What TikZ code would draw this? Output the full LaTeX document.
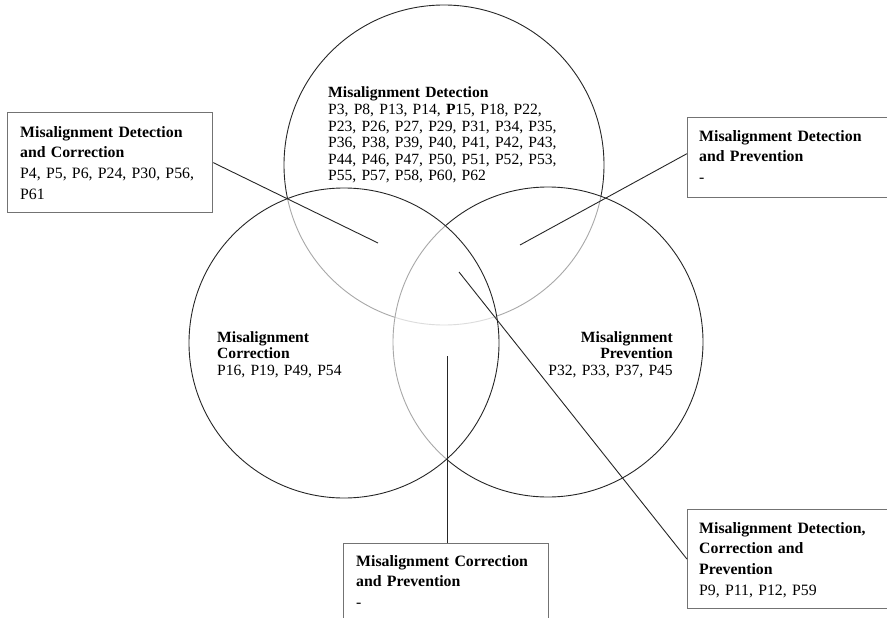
\documentclass[tikz,border=0pt]{standalone}
\usepackage{fontspec}
\setmainfont{Liberation Serif}
\begin{document}
\begin{tikzpicture}[x=1pt,y=-1pt,
  ring/.style={circle, draw=black!85, line width=0.9pt, fill=white, fill opacity=0.6, draw opacity=1, inner sep=0pt, minimum size=#1},
  boxst/.style={rectangle, draw=black!55, line width=1.3pt, inner sep=0pt, anchor=north west},
  link/.style={draw=black!85, line width=0.9pt},
  ctext/.style={inner sep=0pt, font=\fontsize{15.6}{16.6}\selectfont, text width=260pt},
  btext/.style={inner sep=0pt, font=\fontsize{15.8}{20.8}\selectfont, text width=200pt, align=left, anchor=base west}]
\useasboundingbox (0,0) rectangle (887,618);
\clip (0,0) rectangle (887,618);
% circles: drawn top, right, left so later fills dim earlier outlines
\node[ring=320pt] (cTop) at (444,165) {};
\node[ring=310pt] (cRight) at (548,342) {};
\node[ring=310pt] (cLeft) at (344,343) {};
% circle texts
\node[ctext, align=left, anchor=base west] (tTop) at (328,98)
  {\textbf{Misalignment Detection}\\
   P3, P8, P13, P14, \textbf{P}15, P18, P22,\\
   P23, P26, P27, P29, P31, P34, P35,\\
   P36, P38, P39, P40, P41, P42, P43,\\
   P44, P46, P47, P50, P51, P52, P53,\\
   P55, P57, P58, P60, P62};
\node[ctext, text width=160pt, align=left, anchor=base west] (tLeft) at (217,342)
  {\textbf{Misalignment}\\ \textbf{Correction}\\ P16, P19, P49, P54};
\node[ctext, text width=160pt, align=right, anchor=base east] (tRight) at (673,342)
  {\textbf{Misalignment}\\ \textbf{Prevention}\\ P32, P33, P37, P45};
% boxes
\node[boxst, minimum width=205pt, minimum height=100pt] (bTL) at (7,112) {};
\node[boxst, minimum width=215pt, minimum height=80pt] (bTR) at (687,117) {};
\node[boxst, minimum width=205pt, minimum height=100pt] (bB) at (343,543) {};
\node[boxst, minimum width=215pt, minimum height=99pt] (bBR) at (687,509) {};
% box texts
\node[btext] (xTL) at (20,137)
  {\textbf{Misalignment Detection}\\ \textbf{and Correction}\\ P4, P5, P6, P24, P30, P56,\\ P61};
\node[btext] (xTR) at (699,141)
  {\textbf{Misalignment Detection}\\ \textbf{and Prevention}\\ -};
\node[btext] (xB) at (356,566)
  {\textbf{Misalignment Correction}\\ \textbf{and Prevention}\\ -};
\node[btext] (xBR) at (699,533)
  {\textbf{Misalignment Detection,}\\ \textbf{Correction and}\\ \textbf{Prevention}\\ P9, P11, P12, P59};
% connector ends
\coordinate (eTL) at (378,243);
\coordinate (eTR) at (520,245);
\coordinate (eB) at (447,356);
\coordinate (eBR) at (459,272);
\draw[link] (bTL.east) -- (eTL);
\draw[link] ([yshift=4pt]bTR.west) -- (eTR);
\draw[link] (eB |- bB.north) -- (eB);
\draw[link] (bBR.west) -- (eBR);
\end{tikzpicture}
\end{document}
